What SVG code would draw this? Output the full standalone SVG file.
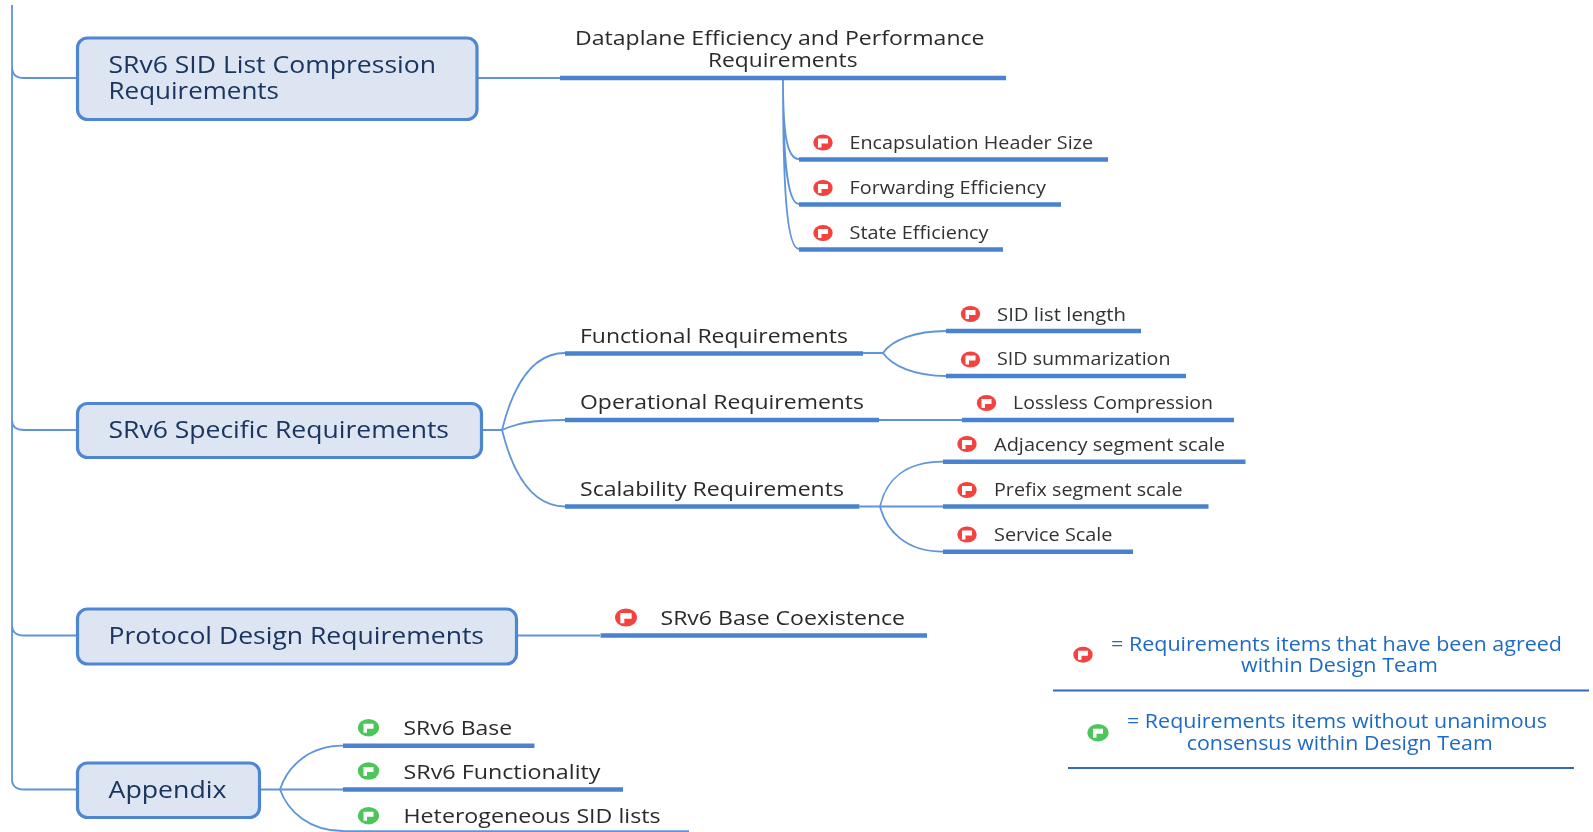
<svg xmlns="http://www.w3.org/2000/svg" width="1593" height="832" viewBox="0 0 1593 832">
<style>
text{font-family:"Open Sans","Noto Sans","Liberation Sans",sans-serif}
.box{fill:#dce5f1;stroke:#4f86d2;stroke-width:3.2}
.bt{font-size:24px;fill:#1b3660}
.mt{font-size:20.5px;fill:#2b2b2b}
.lt{font-size:18px;fill:#333}
.at{font-size:20px;fill:#2b2b2b}
.gt{font-size:19.5px;fill:#1f6ac6}
.bar{stroke:#4a82cf;stroke-width:4.4;fill:none}
.con{stroke:#5f94da;stroke-width:1.8;fill:none}
.rule{stroke:#3468c0;stroke-width:2.2;fill:none}
</style>
<defs>
<filter id="soft" filterUnits="userSpaceOnUse" x="0" y="0" width="1593" height="832"><feGaussianBlur stdDeviation="0.45"/></filter>
<g id="red"><ellipse rx="9.700" ry="8" fill="#f4433f"/><path d="M-5 5V-4H5V1H-1.500V5Z" fill="#fff"/></g>
<g id="green"><ellipse rx="10.700" ry="8.700" fill="#4cc75a"/><path d="M-5 5V-4H5V1H-1.500V5Z" fill="#fff"/></g>
</defs>
<g filter="url(#soft)">
<g id="connectors">
<path class="con" d="M12 5V779Q12 789.500 24 789.500H77M12 67Q12 78 24 78H77M12 420Q12 430 24 430H77M12 625Q12 635.500 24 635.500H77"/>
<path class="con" d="M477 78H560M482 430H502M517 635.500H600M260 789.500H280"/>
<path class="con" d="M783 78C783 130 786 159 799 159M783 78C783 150 786 204 799 204M783 78C783 180 786 249 799 249"/>
<path class="con" d="M502 430C512 390 530 353 565 353M502 430C515 424 530 420 565 420M502 430C512 470 530 506.500 565 506.500"/>
<path class="con" d="M863 353H883C892 340 915 331 946 331M883 353C892 366 915 376 946 376M879 420H962"/>
<path class="con" d="M859.500 506.500H943M880 506.500C886 480 905 461.700 943 461.700M880 506.500C886 530 905 551.700 943 551.700"/>
<path class="con" d="M280 789.500C288 765 310 745.700 343 745.700M280 789.500H343M280 789.500C288 812 310 831 343 831"/>
</g>
<g id="n1"><rect class="box" x="77.500" y="38" width="399.500" height="81.500" rx="10"/><text class="bt" x="108.500" y="73" textLength="327.500" lengthAdjust="spacingAndGlyphs">SRv6 SID List Compression</text><text class="bt" x="108.500" y="98.500" textLength="170.500" lengthAdjust="spacingAndGlyphs">Requirements</text></g>
<g id="n2"><rect class="box" x="77.500" y="403.500" width="404" height="54" rx="10"/><text class="bt" x="108.500" y="438" textLength="340.500" lengthAdjust="spacingAndGlyphs">SRv6 Specific Requirements</text></g>
<g id="n3"><rect class="box" x="77.500" y="609" width="439" height="55" rx="10"/><text class="bt" x="108.500" y="644" textLength="375.500" lengthAdjust="spacingAndGlyphs">Protocol Design Requirements</text></g>
<g id="n4"><rect class="box" x="77.500" y="763" width="182" height="54.500" rx="10"/><text class="bt" x="108.500" y="797.500" textLength="118" lengthAdjust="spacingAndGlyphs">Appendix</text></g>
<g id="n5"><path class="bar" d="M560 78H1006"/><text class="mt" x="575" y="44.500" textLength="409.500" lengthAdjust="spacingAndGlyphs">Dataplane Efficiency and Performance</text><text class="mt" x="708" y="67" textLength="149.500" lengthAdjust="spacingAndGlyphs">Requirements</text></g>
<g id="n6"><path class="bar" d="M799 159.500H1108"/><use href="#red" x="823" y="142.500"/><text class="lt" x="849.500" y="148.500" textLength="243.500" lengthAdjust="spacingAndGlyphs">Encapsulation Header Size</text></g>
<g id="n7"><path class="bar" d="M799 204.500H1061"/><use href="#red" x="823" y="188"/><text class="lt" x="849.500" y="193.500" textLength="196.500" lengthAdjust="spacingAndGlyphs">Forwarding Efficiency</text></g>
<g id="n8"><path class="bar" d="M799 249.500H1003"/><use href="#red" x="823" y="233"/><text class="lt" x="849.500" y="238.500" textLength="139" lengthAdjust="spacingAndGlyphs">State Efficiency</text></g>
<g id="n9"><path class="bar" d="M565 353.500H863"/><text class="mt" x="580" y="342.500" textLength="268" lengthAdjust="spacingAndGlyphs">Functional Requirements</text></g>
<g id="n10"><path class="bar" d="M565 420H879"/><text class="mt" x="580" y="408.500" textLength="284" lengthAdjust="spacingAndGlyphs">Operational Requirements</text></g>
<g id="n11"><path class="bar" d="M565 506.500H859.500"/><text class="mt" x="580" y="495.500" textLength="264" lengthAdjust="spacingAndGlyphs">Scalability Requirements</text></g>
<g id="n12"><path class="bar" d="M946 331H1141"/><use href="#red" x="970.500" y="314"/><text class="lt" x="997" y="320.500" textLength="129" lengthAdjust="spacingAndGlyphs">SID list length</text></g>
<g id="n13"><path class="bar" d="M946 376H1186"/><use href="#red" x="970.500" y="359.500"/><text class="lt" x="997" y="365" textLength="173.500" lengthAdjust="spacingAndGlyphs">SID summarization</text></g>
<g id="n14"><path class="bar" d="M962 420H1234"/><use href="#red" x="986.500" y="403"/><text class="lt" x="1013" y="408.500" textLength="200" lengthAdjust="spacingAndGlyphs">Lossless Compression</text></g>
<g id="n15"><path class="bar" d="M943 461.700H1245.500"/><use href="#red" x="967" y="444"/><text class="lt" x="994" y="450.500" textLength="231" lengthAdjust="spacingAndGlyphs">Adjacency segment scale</text></g>
<g id="n16"><path class="bar" d="M943 506.500H1208.500"/><use href="#red" x="967" y="490"/><text class="lt" x="994" y="496" textLength="188.500" lengthAdjust="spacingAndGlyphs">Prefix segment scale</text></g>
<g id="n17"><path class="bar" d="M943 551.700H1133"/><use href="#red" x="967" y="534.500"/><text class="lt" x="994" y="540.500" textLength="118.500" lengthAdjust="spacingAndGlyphs">Service Scale</text></g>
<g id="n18"><path class="bar" d="M600.500 635.500H927"/><use href="#red" x="0" y="0" transform="translate(626 617.500) scale(1.130)"/><text class="at" x="660.500" y="624.500" textLength="244.500" lengthAdjust="spacingAndGlyphs">SRv6 Base Coexistence</text></g>
<g id="n19"><path class="bar" d="M343 745.700H534.500"/><use href="#green" x="368.500" y="727.700"/><text class="at" x="403.500" y="735" textLength="108.500" lengthAdjust="spacingAndGlyphs">SRv6 Base</text></g>
<g id="n20"><path class="bar" d="M343 789.500H623"/><use href="#green" x="368.500" y="771"/><text class="at" x="403.500" y="779" textLength="197" lengthAdjust="spacingAndGlyphs">SRv6 Functionality</text></g>
<g id="n21"><path class="con" d="M343 831.200H689"/><use href="#green" x="368.500" y="815.700"/><text class="at" x="403.500" y="823" textLength="257" lengthAdjust="spacingAndGlyphs">Heterogeneous SID lists</text></g>
<g id="legend-agreed"><path class="rule" d="M1053 690.500H1589"/><use href="#red" x="1083" y="654.700"/><text class="gt" x="1111" y="650.700" textLength="451" lengthAdjust="spacingAndGlyphs">= Requirements items that have been agreed</text><text class="gt" x="1241" y="672" textLength="197" lengthAdjust="spacingAndGlyphs">within Design Team</text></g>
<g id="legend-open"><path class="rule" d="M1068 768H1574"/><use href="#green" x="1098" y="732.700"/><text class="gt" x="1127" y="727.700" textLength="420" lengthAdjust="spacingAndGlyphs">= Requirements items without unanimous</text><text class="gt" x="1186.700" y="750" textLength="306" lengthAdjust="spacingAndGlyphs">consensus within Design Team</text></g>
</g>
</svg>
